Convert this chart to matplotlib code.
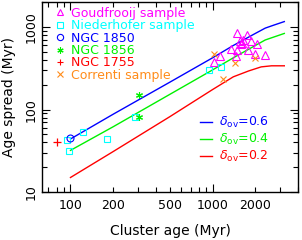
import matplotlib
matplotlib.use("Agg")
import matplotlib.pyplot as plt
from matplotlib.lines import Line2D
from matplotlib.ticker import FixedLocator, LogLocator, FuncFormatter, NullFormatter

plt.rcParams['font.family'] = ['DejaVu Sans']
plt.rcParams['mathtext.fontset'] = 'dejavusans'

# model curves: age spread vs cluster age for three overshooting values
model_age = [100, 200, 500, 1000, 1400, 2000, 2350, 2700, 3200]
spread_06 = [44, 88, 215, 425, 600, 840, 975, 1060, 1170]
spread_04 = [32, 62, 153, 303, 425, 600, 700, 760, 840]
red_age = [100, 200, 500, 1000, 1400, 1800, 2200, 2600, 3200]
spread_02 = [15, 31, 82, 175, 250, 295, 330, 340, 340]
ov_labels = ['0.6', '0.4', '0.2']

# observed samples
goud_age = [1494, 1749, 1550, 1600, 1650, 1580, 1854, 1355, 1477, 1777, 2056,
            1453, 1978, 2327, 1023, 1134]
goud_spread = [843, 804, 680, 650, 700, 620, 686, 544, 529, 529, 620,
               447, 473, 460, 381, 447]
nied_age = [94, 123, 98, 180, 285, 944, 1138]
nied_spread = [43, 53, 31.5, 44, 81, 303, 332]
n1850_age = [100]
n1850_spread = [45]
n1856_age = [306, 306]
n1856_spread = [150, 82]
n1755_age = [80]
n1755_spread = [40]
corr_age = [1023, 1434, 1978, 1176]
corr_spread = [469, 365, 420, 234]

magenta = '#FF00FF'
cyan = '#00FFFF'
blue = '#0000FF'
green = '#00F000'
red = '#FF0000'
orange = '#FF8C1A'

fig = plt.figure(figsize=(3.02, 2.40), dpi=100)
ax = fig.add_axes([0.139, 0.2, 0.848, 0.79])

ax.plot(model_age, spread_06, color=blue, lw=1.0)
ax.plot(model_age, spread_04, color=green, lw=1.0)
ax.plot(red_age, spread_02, color=red, lw=1.0)

ms = 5.5
ax.plot(goud_age, goud_spread, ls='none', marker='^', mfc='none', mec=magenta, ms=ms, mew=0.8)
ax.plot(nied_age, nied_spread, ls='none', marker='s', mfc='none', mec=cyan, ms=4.5, mew=0.8)
ax.plot(n1850_age, n1850_spread, ls='none', marker='o', mfc='none', mec=blue, ms=5, mew=0.8)
ax.plot(n1856_age, n1856_spread, ls='none', marker=(6, 2, 0), color=green, ms=5, mew=0.8)
ax.plot(n1755_age, n1755_spread, ls='none', marker='+', color=red, ms=6, mew=0.9)
ax.plot(corr_age, corr_spread, ls='none', marker='x', color=orange, ms=4.5, mew=0.8)

ax.set_xscale('log')
ax.set_yscale('log')
ax.set_xlim(63, 4000)
ax.set_ylim(10, 2000)

ax.xaxis.set_major_locator(FixedLocator([100, 1000]))
ax.xaxis.set_minor_locator(LogLocator(base=10, subs=range(2, 10)))
ax.xaxis.set_major_formatter(FuncFormatter(lambda v, p: '%d' % round(v)))
ax.xaxis.set_minor_formatter(FuncFormatter(
    lambda v, p: '%d' % round(v) if round(v) in (200, 500, 2000) else ''))
ax.yaxis.set_major_locator(FixedLocator([10, 100, 1000]))
ax.yaxis.set_minor_locator(LogLocator(base=10, subs=range(2, 10)))
ax.yaxis.set_major_formatter(FuncFormatter(lambda v, p: '%d' % round(v)))
ax.yaxis.set_minor_formatter(NullFormatter())

ax.tick_params(which='both', direction='in', top=True, right=True, width=0.8,
               labelsize=9, pad=5)
ax.tick_params(axis='y', which='both', pad=3)
ax.tick_params(which='major', length=6)
ax.tick_params(which='minor', length=3.5)
for lab in ax.get_yticklabels():
    lab.set_rotation(90)
    lab.set_va('center')
for sp in ax.spines.values():
    sp.set_linewidth(1.0)

ax.set_xlabel('Cluster age (Myr)', fontsize=10, labelpad=9)
ax.set_ylabel('Age spread (Myr)', fontsize=10, labelpad=6)

# sample legend (top left)
sample_handles = [
    Line2D([], [], ls='none', marker='^', mfc='none', mec=magenta, ms=4.5, mew=0.8),
    Line2D([], [], ls='none', marker='s', mfc='none', mec=cyan, ms=4, mew=0.8),
    Line2D([], [], ls='none', marker='o', mfc='none', mec=blue, ms=4.5, mew=0.8),
    Line2D([], [], ls='none', marker=(6, 2, 0), color=green, ms=4.5, mew=0.8),
    Line2D([], [], ls='none', marker='+', color=red, ms=5, mew=0.8),
    Line2D([], [], ls='none', marker='x', color=orange, ms=4, mew=0.8),
]
sample_names = ['Goudfrooij sample', 'Niederhofer sample', 'NGC 1850',
                'NGC 1856', 'NGC 1755', 'Correnti sample']
sample_colors = [magenta, cyan, blue, green, red, orange]
leg1 = ax.legend(sample_handles, sample_names, loc='upper left',
                 bbox_to_anchor=(0.025, 1.01), frameon=False, fontsize=9,
                 handlelength=0.8, handletextpad=0.5, labelspacing=-0.05,
                 borderpad=0.0, labelcolor=sample_colors)
ax.add_artist(leg1)

ov_handles = [Line2D([], [], color=c, lw=1.0) for c in (blue, green, red)]
ov_names = [r'$\delta_{\rm ov}$=' + v for v in ov_labels]
ax.legend(ov_handles, ov_names, loc='lower right', bbox_to_anchor=(0.91, 0.113),
          frameon=False, fontsize=9, handlelength=1.0, handletextpad=0.5,
          labelspacing=0.15, borderpad=0.0, labelcolor=[blue, green, red])

fig.savefig('out.png', dpi=100)
